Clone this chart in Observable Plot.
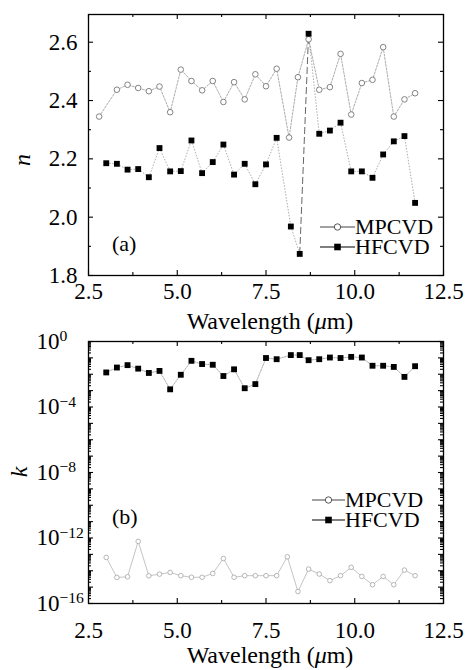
<!DOCTYPE html>
<html><head><meta charset="utf-8">
<script src="https://cdn.jsdelivr.net/npm/d3@7"></script>
<script src="https://cdn.jsdelivr.net/npm/@observablehq/plot@0.6"></script>
<style>
body{margin:0;background:#fff;}
#wrap{position:relative;width:467px;height:670px;font-family:"Liberation Serif","DejaVu Serif",serif;color:#000;}
#wrap svg{display:block;}
.t{position:absolute;font-size:22px;line-height:22px;white-space:nowrap;}
.title{font-size:24px;line-height:24px;}
.leg{position:absolute;display:flex;align-items:center;font-size:22px;line-height:18px;height:18px;white-space:nowrap;}
.leg svg{display:inline-block;}
.leg span{display:inline-block;height:18px;line-height:18px;}
</style></head><body><div id="wrap"></div>
<script>
// ---- data ----
const wlMPtop = [2.8,3.3,3.6,3.9,4.2,4.5,4.8,5.1,5.4,5.7,6.0,6.3,6.6,6.9,7.2,7.5,7.8,8.15,8.4,8.7,9.0,9.3,9.6,9.9,10.2,10.5,10.8,11.1,11.4,11.7];
const nMP = [2.345,2.437,2.454,2.443,2.432,2.448,2.36,2.506,2.467,2.435,2.467,2.395,2.463,2.404,2.49,2.449,2.509,2.273,2.48,2.61,2.437,2.446,2.56,2.352,2.46,2.471,2.583,2.345,2.404,2.425];
const wlHF = [3.0,3.3,3.6,3.9,4.2,4.5,4.8,5.1,5.4,5.7,6.0,6.3,6.6,6.9,7.2,7.5,7.8,8.2,8.45,8.7,9.0,9.3,9.6,9.9,10.2,10.5,10.8,11.1,11.4,11.7];
const nHF = [2.185,2.183,2.163,2.165,2.137,2.237,2.157,2.158,2.263,2.151,2.189,2.249,2.146,2.183,2.113,2.181,2.272,1.968,1.874,2.629,2.286,2.297,2.324,2.157,2.157,2.135,2.215,2.26,2.278,2.049];
const wlMPbot = [3.0,3.3,3.6,3.9,4.2,4.5,4.8,5.1,5.4,5.7,6.0,6.3,6.6,6.9,7.2,7.5,7.8,8.1,8.4,8.7,9.0,9.3,9.6,9.9,10.2,10.5,10.8,11.1,11.4,11.7];
const kMP = [6.5e-14,3.9e-15,4.3e-15,6.2e-13,4.9e-15,6.2e-15,7.9e-15,5.0e-15,4.0e-15,4.0e-15,6.8e-15,5.6e-14,4.0e-15,5.0e-15,5.0e-15,5.0e-15,5.0e-15,7.1e-14,5.4e-16,1.26e-14,6.3e-15,2.5e-15,5.0e-15,1.6e-14,4.5e-15,1.4e-15,4.5e-15,1.4e-15,1.1e-14,5.0e-15];
const kHF = [1.29e-2,2.57e-2,3.6e-2,2.2e-2,1.2e-2,1.6e-2,1.2e-3,9.3e-3,6.6e-2,4.2e-2,3.8e-2,7.8e-3,2.0e-2,1.4e-3,2.5e-3,9.8e-2,8.3e-2,0.148,0.148,7.2e-2,8.3e-2,0.105,9.8e-2,0.115,0.105,3.3e-2,3.3e-2,2.8e-2,6.9e-3,3.1e-2];
const seriesNames = ["MPCVD","HFCVD"];
const xTicks = [2.5,5.0,7.5,10.0,12.5];
const xMinor = [3.75,6.25,8.75,11.25];
const nTicks = [1.8,2.0,2.2,2.4,2.6];
const nMinor = [1.9,2.1,2.3,2.5];
const kLabelTicks = [1e0,1e-4,1e-8,1e-12,1e-16];
const kDecades = d3.range(0,17).map(e => Math.pow(10,-e));
const kMinor = [];
for (let e = -16; e < 0; e++) for (let m = 2; m <= 9; m++) kMinor.push(m*Math.pow(10,e));

const FONT = '"Liberation Serif","DejaVu Serif",serif';
const fmt1 = d3.format(".1f");
const W = 467, ML = 88, MR = 24;
const FW = W - ML - MR;

// inward ticks on all four sides, built with tickX / tickY insets
function frameTicks(fh, xMaj, xMin, yMaj, yMin) {
  const s = {stroke: "#000", strokeWidth: 1.1};
  const out = [];
  for (const [arr, len] of [[xMaj, 5], [xMin, 3]]) {
    out.push(Plot.tickX(arr, {x: d => d, insetTop: fh - len, ...s}));
    out.push(Plot.tickX(arr, {x: d => d, insetBottom: fh - len, ...s}));
  }
  for (const [arr, len] of [[yMaj, 5], [yMin, 3]]) {
    out.push(Plot.tickY(arr, {y: d => d, insetRight: FW - len, ...s}));
    out.push(Plot.tickY(arr, {y: d => d, insetLeft: FW - len, ...s}));
  }
  return out;
}
function segs(xs, ys) {
  return xs.slice(1).map((x, i) => ({i, x1: xs[i], y1: ys[i], x2: x, y2: ys[i+1]}));
}

const mpTop = wlMPtop.map((x, i) => ({x, y: nMP[i]}));
const hfTop = wlHF.map((x, i) => ({x, y: nHF[i]}));
const hfTopSegs = segs(wlHF, nHF);
const mpBot = wlMPbot.map((x, i) => ({x, y: kMP[i]}));
const hfBot = wlHF.map((x, i) => ({x, y: kHF[i]}));

const TOP_H = 330, TOP_MT = 14, TOP_MB = 55;
const topPlot = Plot.plot({
  width: W, height: TOP_H,
  marginLeft: ML, marginRight: MR, marginTop: TOP_MT, marginBottom: TOP_MB,
  style: {fontFamily: FONT, fontSize: "23px", background: "transparent", color: "#000", overflow: "visible"},
  x: {domain: [2.5, 12.5], axis: null},
  y: {domain: [1.8, 2.695], axis: null},
  marks: [
    Plot.line(mpTop, {x: "x", y: "y", stroke: "#888", strokeWidth: 0.7, strokeDasharray: "2,1.5"}),
    Plot.link(hfTopSegs.filter(d => d.i !== 18), {x1: "x1", y1: "y1", x2: "x2", y2: "y2", stroke: "#888", strokeWidth: 0.7, strokeDasharray: "1.5,1.5"}),
    Plot.link(hfTopSegs.filter(d => d.i === 18), {x1: "x1", y1: "y1", x2: "x2", y2: "y2", stroke: "#555", strokeWidth: 0.9, strokeDasharray: "7,3"}),
    Plot.dot(mpTop, {x: "x", y: "y", r: 2.8, stroke: "#666", fill: "white", strokeWidth: 0.8}),
    Plot.dot(hfTop, {x: "x", y: "y", r: 3.3, symbol: "square", fill: "black", stroke: "none"}),
    Plot.frame({stroke: "#000", strokeWidth: 1.3}),
    ...frameTicks(TOP_H - TOP_MT - TOP_MB, xTicks, xMinor, nTicks, nMinor),
    Plot.text(xTicks, {x: d => d, frameAnchor: "bottom", dy: 16, text: fmt1, lineAnchor: "middle"}),
    Plot.text(nTicks, {y: d => d, frameAnchor: "left", dx: -11, textAnchor: "end", text: fmt1})
  ]
});

const BOT_H = 340, BOT_MT = 11, BOT_MB = 67;
const botPlot = Plot.plot({
  width: W, height: BOT_H,
  marginLeft: ML, marginRight: MR, marginTop: BOT_MT, marginBottom: BOT_MB,
  style: {fontFamily: FONT, fontSize: "23px", background: "transparent", color: "#000", overflow: "visible"},
  x: {domain: [2.5, 12.5], axis: null},
  y: {type: "log", domain: [1e-16, 1], axis: null},
  marks: [
    Plot.line(mpBot, {x: "x", y: "y", stroke: "#aaa", strokeWidth: 0.7}),
    Plot.line(hfBot, {x: "x", y: "y", stroke: "#888", strokeWidth: 0.7, strokeDasharray: "1.5,1.2"}),
    Plot.dot(mpBot, {x: "x", y: "y", r: 2.3, stroke: "#999", fill: "white", strokeWidth: 0.7}),
    Plot.dot(hfBot, {x: "x", y: "y", r: 3.3, symbol: "square", fill: "black", stroke: "none"}),
    Plot.frame({stroke: "#000", strokeWidth: 1.3}),
    ...frameTicks(BOT_H - BOT_MT - BOT_MB, xTicks, xMinor, kDecades, kMinor),
    Plot.text(xTicks, {x: d => d, frameAnchor: "bottom", dy: 27, text: fmt1, lineAnchor: "middle"}),
    Plot.text(kLabelTicks, {y: d => d, frameAnchor: "left", dx: -52, textAnchor: "start", text: d => "10^" + Math.round(Math.log10(d))})
  ]
});

const wrap = document.getElementById("wrap");
wrap.appendChild(topPlot);
wrap.appendChild(botPlot);

// superscript exponents
d3.select(botPlot).selectAll("text").each(function() {
  const m = /^10\^(-?\d+)$/.exec(this.textContent);
  if (!m) return;
  const el = d3.select(this);
  el.text("");
  el.append("tspan").text("10");
  el.append("tspan").attr("dy", "-0.5em").attr("font-size", "0.68em").text(m[1].replace("-", "\u2212"));
});

function addText(html, left, top, extra, cls) {
  const d = document.createElement("div");
  d.className = "t" + (cls ? " " + cls : "");
  d.innerHTML = html;
  d.style.left = left + "px";
  d.style.top = top + "px";
  if (extra) Object.assign(d.style, extra);
  wrap.appendChild(d);
  return d;
}
// axis titles
addText("Wavelength (<i>\u03bc</i>m)", 270, 309, {transform: "translateX(-50%)"}, "title");
addText("Wavelength (<i>\u03bc</i>m)", 270, 643, {transform: "translateX(-50%)"}, "title");
addText("<i>n</i>", 22, 160, {transform: "translate(-50%,-50%) rotate(-90deg)"}, "title");
addText("<i>k</i>", 19, 472, {transform: "translate(-50%,-50%) rotate(-90deg)"}, "title");
addText("(a)", 112, 233);
addText("(b)", 112, 506);

// legends
function swatch(kind, w, dark) {
  const mk = kind === "MPCVD"
    ? `<circle cx="${w/2}" cy="9" r="3.2" fill="white" stroke="${dark}" stroke-width="0.9"/>`
    : `<rect x="${w/2-3.3}" y="5.7" width="6.6" height="6.6" fill="black"/>`;
  return `<svg width="${w}" height="18"><line x1="0" x2="${w}" y1="9" y2="9" stroke="${dark}" stroke-width="1.2"/>${mk}</svg>`;
}
function addLegend(left, centers, w) {
  seriesNames.forEach((name, i) => {
    const d = document.createElement("div");
    d.className = "leg";
    d.style.left = left + "px";
    d.style.top = (centers[i] - 9) + "px";
    d.innerHTML = swatch(name, w, name === "MPCVD" ? "#444" : "#000") + `<span>${name}</span>`;
    wrap.appendChild(d);
  });
}
addLegend(320, [227, 247], 35);
addLegend(312, [500, 520], 33);
</script></body></html>
